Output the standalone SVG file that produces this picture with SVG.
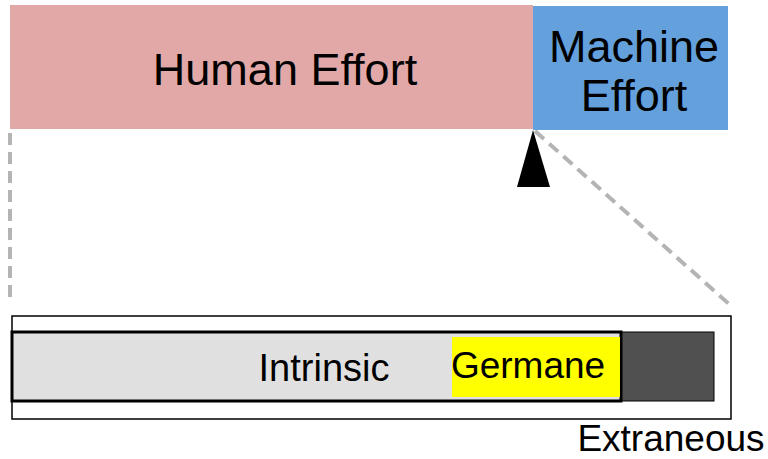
<svg xmlns="http://www.w3.org/2000/svg" width="768" height="459" viewBox="0 0 768 459">
<style>
text{font-family:"Liberation Sans",Arial,sans-serif;fill:#000}
.big{font-size:45px}
.mid{font-size:37px}
.dash{stroke:#B4B4B4;stroke-width:4;stroke-dasharray:12 7;fill:none}
</style>
<rect width="768" height="459" fill="#fff"/>
<g id="connectors">
<line class="dash" x1="10" y1="133" x2="10" y2="302"/>
<line class="dash" x1="535" y1="131" x2="729" y2="304"/>
<polygon points="533,130 517,187 550,187" fill="#000"/>
</g>
<g id="human">
<rect x="10" y="5" width="523" height="124" fill="#E2A8A7"/>
<text class="big" x="285" y="85" text-anchor="middle">Human Effort</text>
</g>
<g id="machine">
<rect x="533" y="6" width="195" height="124" fill="#63A0DC"/>
<text class="big" x="634" y="62" text-anchor="middle">Machine</text>
<text class="big" x="634" y="111" text-anchor="middle">Effort</text>
</g>
<g id="load">
<rect x="12" y="316" width="719" height="103" fill="none" stroke="#000" stroke-width="1.5"/>
<rect x="621" y="332" width="93" height="69" fill="#505050" stroke="#000" stroke-width="1"/>
<rect x="12" y="332" width="609" height="69" fill="#E0E0E0" stroke="#000" stroke-width="3"/>
<rect x="452" y="337" width="168" height="60" fill="#FFFF00"/>
<text class="mid" x="324" y="381" text-anchor="middle" style="font-size:38px">Intrinsic</text>
<text class="mid" x="528" y="378" text-anchor="middle">Germane</text>
<text class="mid" x="671" y="451" text-anchor="middle">Extraneous</text>
</g>
</svg>
